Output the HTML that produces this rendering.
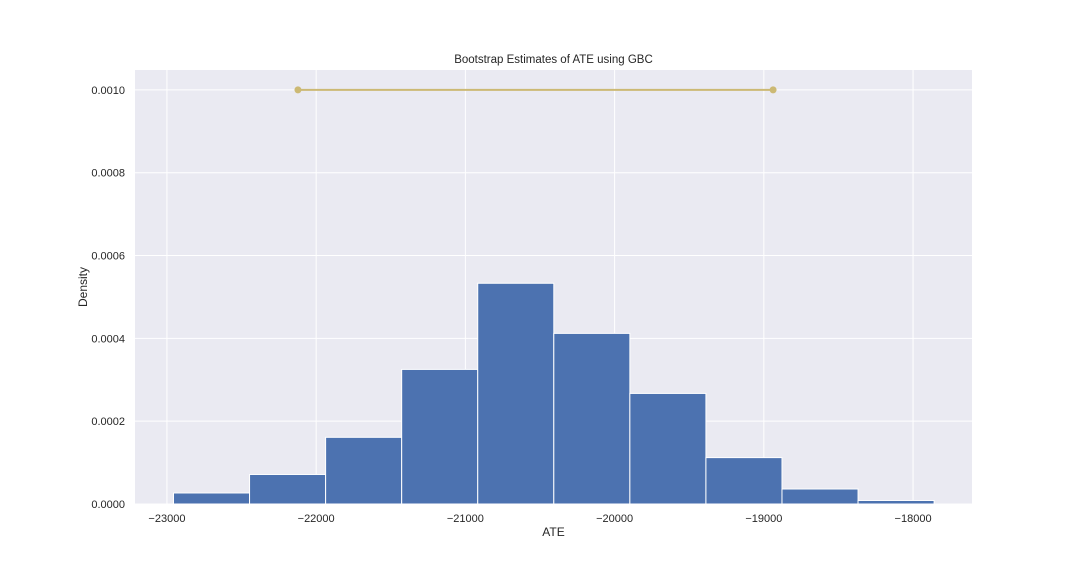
<!DOCTYPE html>
<html><head><meta charset="utf-8"><style>
body{margin:0;background:#fff;font-family:"Liberation Sans",Arial,sans-serif}
text{font-family:"Liberation Sans",Arial,sans-serif;fill:#262626}
</style></head><body>
<svg id="chart" width="1080" height="576" xmlns="http://www.w3.org/2000/svg"></svg>
<script>
const binStart = -22956;
const binWidth = 509.7;
const densities = [0.0000266,0.0000713,0.000161,0.000325,0.000533,0.000412,0.000267,0.000112,0.0000362,0.0000085];
const xTicks = [-23000,-22000,-21000,-20000,-19000,-18000];
const yTicks = [0,0.0002,0.0004,0.0006,0.0008,0.001];
const yTickLabels = ["0.0000","0.0002","0.0004","0.0006","0.0008","0.0010"];
const ciLow = -22122, ciHigh = -18938, ciY = 0.001;

const L=135,R=972,T=70,B=504;
const xMin=-23214,xMax=-17605,yMin=0,yMax=0.001048;
const X=v=>L+(v-xMin)/(xMax-xMin)*(R-L);
const Y=v=>B-(v-yMin)/(yMax-yMin)*(B-T);
const svg=document.getElementById('chart');
const NS='http://www.w3.org/2000/svg';
function mk(tag,attrs,parent){const e=document.createElementNS(NS,tag);for(const k in attrs)e.setAttribute(k,attrs[k]);(parent||svg).appendChild(e);return e;}

const bg=mk('rect',{x:L,y:T,width:R-L,height:B-T,fill:'#eaeaf2'});


xTicks.forEach(v=>{
  const g=mk('line',{x1:X(v),x2:X(v),y1:T,y2:B,stroke:'#fff','stroke-width':1});
  
  
  const t=mk('text',{x:X(v),y:B+18,'text-anchor':'middle','font-size':11});
  t.textContent='\u2212'+Math.abs(v);
  
  
});
yTicks.forEach((v,i)=>{
  const g=mk('line',{x1:L,x2:R,y1:Y(v),y2:Y(v),stroke:'#fff','stroke-width':1});
  
  
  const t=mk('text',{x:L-10,y:Y(v)+4,'text-anchor':'end','font-size':11});
  t.textContent=yTickLabels[i];
  
  
});
densities.forEach((d,i)=>{
  const x0=X(binStart+i*binWidth),x1=X(binStart+(i+1)*binWidth);
  const r=mk('rect',{x:x0,y:Y(d),width:x1-x0,height:Y(0)-Y(d),fill:'#4c72b0',stroke:'#fff','stroke-width':1});
  
  
});
const ci=mk('line',{x1:X(ciLow),x2:X(ciHigh),y1:Y(ciY),y2:Y(ciY),stroke:'#ccb974','stroke-width':2});


[ciLow,ciHigh].forEach(v=>{
  const c=mk('circle',{cx:X(v),cy:Y(ciY),r:3.5,fill:'#ccb974'});
  
  
});
const title=mk('text',{x:(L+R)/2,y:63,'text-anchor':'middle','font-size':11.5});
title.textContent='Bootstrap Estimates of ATE using GBC';


const xl=mk('text',{x:(L+R)/2,y:536,'text-anchor':'middle','font-size':12});
xl.textContent='ATE';


const yl=mk('text',{x:0,y:0,'text-anchor':'middle','font-size':12,transform:'translate(87,287) rotate(-90)'});
yl.textContent='Density';


</script>
</body></html>
